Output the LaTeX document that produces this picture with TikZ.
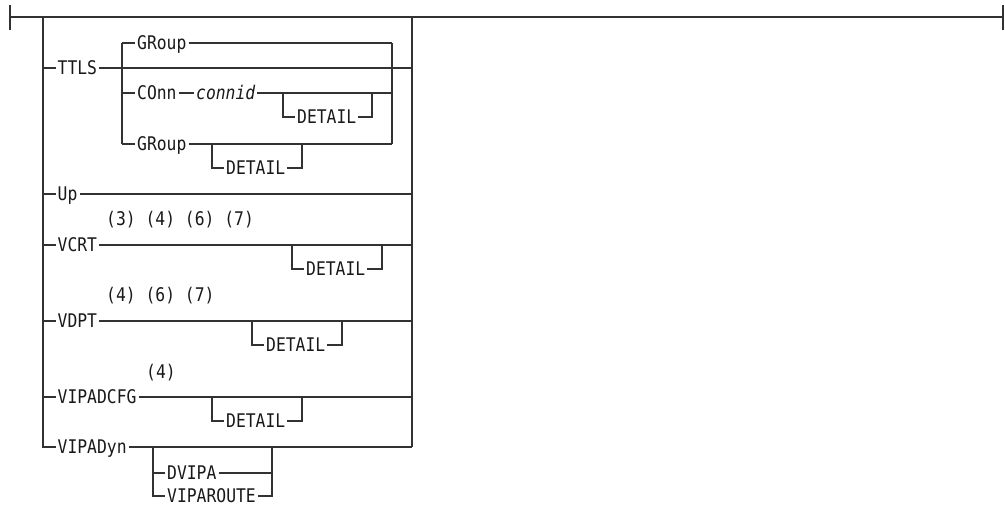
\documentclass[tikz,border=0pt]{standalone}
\usepackage{fontspec}
\newfontfamily\synfamily[FakeStretch=0.87]{DejaVu Sans Mono}
\newcommand{\synfont}{\synfamily\fontsize{18.8pt}{21pt}\selectfont}
\definecolor{rrline}{RGB}{50,50,50}
\definecolor{rrtext}{RGB}{25,25,25}
\usetikzlibrary{positioning,calc}
\tikzset{
  rail/.style={draw=rrline, line width=1.3pt},
  kw/.style={font=\synfont, text=rrtext, inner xsep=2pt, inner ysep=0pt,
    text height=13.5pt, text depth=0pt, anchor=west},
}
\begin{document}
\begin{tikzpicture}[x=1pt, y=-1pt]
  \useasboundingbox (0,0) rectangle (1005,506);

  % main line and end ticks
  \coordinate (start) at (10,17);
  \coordinate (stop) at (1003,17);
  \coordinate (L) at (43,17);
  \coordinate (R) at (412,17);
  \draw[rail] ($(start)+(0,-12)$) -- ($(start)+(0,13)$);
  \draw[rail] ($(stop)+(0,-12)$) -- ($(stop)+(0,13)$);
  \draw[rail] (start) -- (stop);

  % TTLS
  \node[kw] (ttls) at (55.5,68) {TTLS};
  \coordinate (sL) at (122,68);
  \coordinate (sR) at (392,68);
  \draw[rail] (L |- ttls.west) -- (ttls.west);
  \draw[rail] (ttls.east) -- (R |- ttls.west);
  \node[kw] (grpA) at (135,43) {GRoup};
  \node[kw] (conn) at (135,93) {COnn};
  \node[kw, font=\synfont\itshape] (connid) at (194,93) {connid};
  \node[kw] (detA) at (295,117) {DETAIL};
  \node[kw] (grpB) at (135,144) {GRoup};
  \node[kw] (detB) at (224,168) {DETAIL};
  \draw[rail] (sL |- grpA.west) -- (sL |- grpB.west);
  \draw[rail] (sR |- grpA.west) -- (sR |- grpB.west);
  \draw[rail] (sL |- grpA.west) -- (grpA.west);
  \draw[rail] (grpA.east) -- (sR |- grpA.west);
  \draw[rail] (sL |- conn.west) -- (conn.west);
  \draw[rail] (conn.east) -- (connid.west);
  \draw[rail] (connid.east) -- (sR |- conn.west);
  \coordinate (dA1) at (283,93);
  \coordinate (dA2) at (372,93);
  \draw[rail] (dA1) -- (dA1 |- detA.west) -- (detA.west);
  \draw[rail] (detA.east) -- (dA2 |- detA.west) -- (dA2);
  \draw[rail] (sL |- grpB.west) -- (grpB.west);
  \draw[rail] (grpB.east) -- (sR |- grpB.west);
  \coordinate (dB1) at (212,144);
  \coordinate (dB2) at (302,144);
  \draw[rail] (dB1) -- (dB1 |- detB.west) -- (detB.west);
  \draw[rail] (detB.east) -- (dB2 |- detB.west) -- (dB2);

  % Up
  \node[kw] (up) at (55.5,194) {Up};
  \draw[rail] (L |- up.west) -- (up.west);
  \draw[rail] (up.east) -- (R |- up.west);

  % VCRT
  \node[kw] (fnVcrt) at (104,219) {(3) (4) (6) (7)};
  \node[kw] (vcrt) at (55.5,245) {VCRT};
  \node[kw] (detC) at (304,269) {DETAIL};
  \draw[rail] (L |- vcrt.west) -- (vcrt.west);
  \draw[rail] (vcrt.east) -- (R |- vcrt.west);
  \coordinate (dC1) at (292,245);
  \coordinate (dC2) at (382,245);
  \draw[rail] (dC1) -- (dC1 |- detC.west) -- (detC.west);
  \draw[rail] (detC.east) -- (dC2 |- detC.west) -- (dC2);

  % VDPT
  \node[kw] (fnVdpt) at (104,295) {(4) (6) (7)};
  \node[kw] (vdpt) at (55.5,321) {VDPT};
  \node[kw] (detD) at (264,345) {DETAIL};
  \draw[rail] (L |- vdpt.west) -- (vdpt.west);
  \draw[rail] (vdpt.east) -- (R |- vdpt.west);
  \coordinate (dD1) at (252,321);
  \coordinate (dD2) at (342,321);
  \draw[rail] (dD1) -- (dD1 |- detD.west) -- (detD.west);
  \draw[rail] (detD.east) -- (dD2 |- detD.west) -- (dD2);

  % VIPADCFG
  \node[kw] (fnCfg) at (144,372) {(4)};
  \node[kw] (vipadcfg) at (55.5,397) {VIPADCFG};
  \node[kw] (detE) at (224,421) {DETAIL};
  \draw[rail] (L |- vipadcfg.west) -- (vipadcfg.west);
  \draw[rail] (vipadcfg.east) -- (R |- vipadcfg.west);
  \coordinate (dE1) at (212,397);
  \coordinate (dE2) at (302,397);
  \draw[rail] (dE1) -- (dE1 |- detE.west) -- (detE.west);
  \draw[rail] (detE.east) -- (dE2 |- detE.west) -- (dE2);

  % VIPADyn
  \node[kw] (vipadyn) at (55.5,447) {VIPADyn};
  \node[kw] (dvipa) at (165,473) {DVIPA};
  \node[kw] (viparoute) at (165,496) {VIPAROUTE};
  \draw[rail] (L) -- (L |- vipadyn.west) -- (vipadyn.west);
  \draw[rail] (R) -- (R |- vipadyn.west);
  \draw[rail] (vipadyn.east) -- (R |- vipadyn.west);
  \coordinate (dF1) at (153,447);
  \coordinate (dF2) at (272,447);
  \draw[rail] (dF1) -- (dF1 |- viparoute.west) -- (viparoute.west);
  \draw[rail] (viparoute.east) -- (dF2 |- viparoute.west) -- (dF2);
  \draw[rail] (dF1 |- dvipa.west) -- (dvipa.west);
  \draw[rail] (dvipa.east) -- (dF2 |- dvipa.west);
\end{tikzpicture}
\end{document}
